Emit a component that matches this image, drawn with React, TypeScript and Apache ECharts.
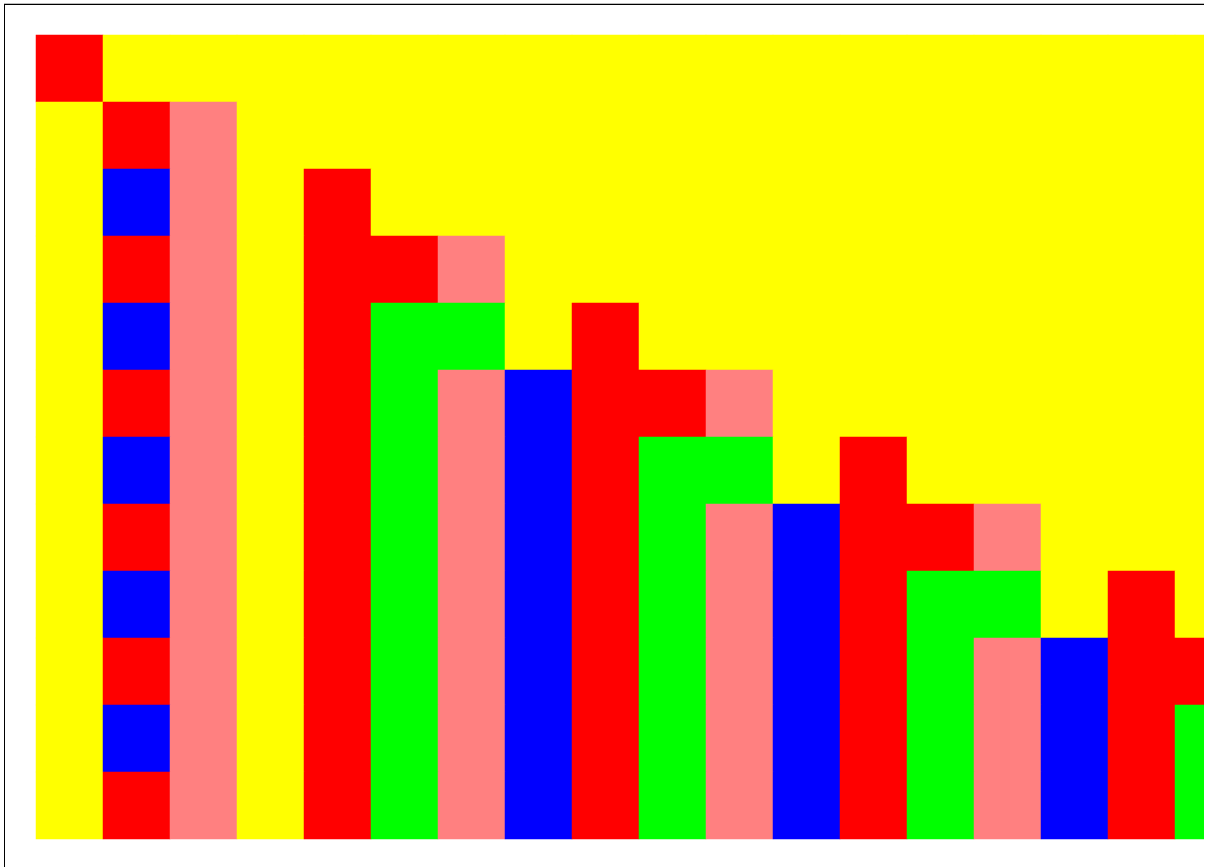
import React, { useEffect, useRef } from "react";
import * as echarts from "echarts";

// Column and row categories of the grid
const columns: string[] = Array.from({ length: 18 }, (_, i) => `C${i + 1}`);
const rows: string[] = Array.from({ length: 12 }, (_, i) => `R${i + 1}`);

// Cell categories per row (Y=0 yellow, R=1 red, P=2 pink, B=3 blue, G=4 green)
const row01 = "RYYYYYYYYYYYYYYYYY";
const row02 = "YRPYYYYYYYYYYYYYYY";
const row03 = "YBPYRYYYYYYYYYYYYY";
const row04 = "YRPYRRPYYYYYYYYYYY";
const row05 = "YBPYRGGYRYYYYYYYYY";
const row06 = "YRPYRGPBRRPYYYYYYY";
const row07 = "YBPYRGPBRGGYRYYYYY";
const row08 = "YRPYRGPBRGPBRRPYYY";
const row09 = "YBPYRGPBRGPBRGGYRY";
const row10 = "YRPYRGPBRGPBRGPBRR";
const row11 = "YBPYRGPBRGPBRGPBRG";
const row12 = "YRPYRGPBRGPBRGPBRG";

const rowCodes: string[] = [row01, row02, row03, row04, row05, row06, row07, row08, row09, row10, row11, row12];
const codeValue: Record<string, number> = { Y: 0, R: 1, P: 2, B: 3, G: 4 };
const palette: string[] = ["#ffff00", "#ff0000", "#ff8080", "#0000ff", "#00ff00"];

export default function App() {
  const ref = useRef<HTMLDivElement>(null);
  useEffect(() => {
    if (!ref.current) return;
    const chart = echarts.init(ref.current, undefined, { renderer: "svg" });
    const data: number[][] = [];
    rowCodes.forEach((code, r) => {
      code.split("").forEach((ch, c) => {
        data.push([c, r, codeValue[ch]]);
      });
    });
    chart.setOption({
      animation: false,
      grid: {
        left: 31,
        top: 30,
        width: 67 * columns.length,
        height: 67 * rows.length,
        outerBoundsMode: "none",
      },
      xAxis: { type: "category", data: columns, show: false },
      yAxis: { type: "category", data: rows, inverse: true, show: false },
      visualMap: {
        show: false,
        type: "piecewise",
        dimension: 2,
        pieces: palette.map((color, i) => ({ value: i, color })),
      },
      series: [
        {
          type: "heatmap",
          data,
          itemStyle: { borderWidth: 0 },
          emphasis: { disabled: true },
        },
      ],
    });
    return () => chart.dispose();
  }, []);
  return (
    <div
      style={{
        position: "fixed",
        left: 4,
        top: 4,
        width: 1199,
        height: 880,
        overflow: "hidden",
        borderLeft: "1px solid #000",
        borderTop: "1px solid #000",
        boxShadow: "0 -1px 0 #bbb",
        background: "#fff",
      }}
    >
      <div ref={ref} style={{ width: 1300, height: 879 }} />
    </div>
  );
}
